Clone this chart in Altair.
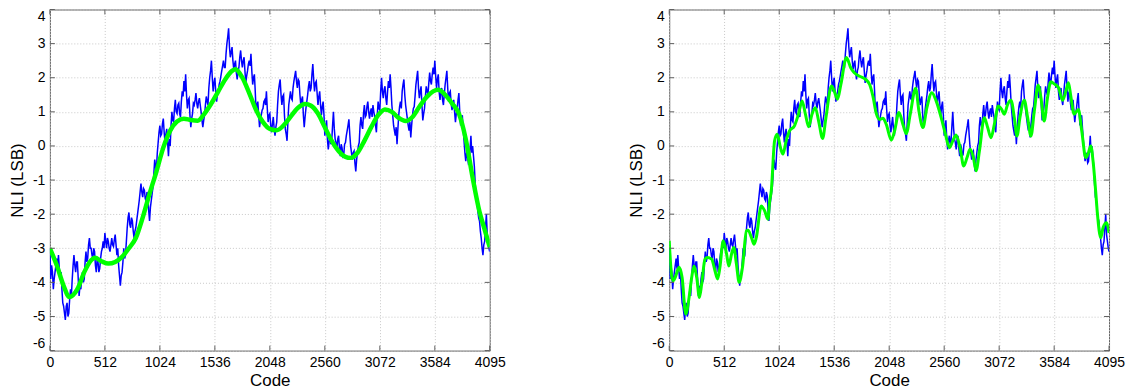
import altair as alt
import pandas as pd

# ---------------- data ----------------
# Measured NLI trace, read every 16 codes (last sample at code 4095) ...
BLUE_CODES = list(range(0, 4096, 16)) + [4095]
NLI = [
    -3.0, -3.5, -4.2, -3.7, -3.3, -3.2, -3.9, -4.2, -4.7, -5.1,
    -4.6, -4.9, -4.2, -3.9, -3.2, -3.7, -3.4, -4.4, -4.2, -3.7,
    -3.9, -3.1, -3.3, -2.7, -3.0, -3.3, -3.1, -3.7, -3.4, -3.6,
    -3.1, -2.8, -2.55, -3.0, -2.8, -3.1, -2.7, -2.95, -2.6, -3.2,
    -3.5, -4.1, -3.7, -3.0, -3.2, -2.4, -1.95, -2.4, -2.2, -2.7,
    -2.4, -2.0, -1.6, -1.1, -1.5, -1.3, -1.6, -1.45, -2.2, -1.6,
    -1.2, -0.4, -0.7, 0.1, 0.6, 0.35, 0.8, 0.1, 0.5, -0.3,
    0.0, 1.0, 0.7, 1.35, 0.95, 1.25, 0.85, 1.6, 1.9, 2.1,
    1.1, 1.4, 0.55, 0.95, 1.2, 1.55, 1.1, 1.4, 1.0, 0.55,
    0.9, 1.45, 1.2, 2.0, 2.5, 1.6, 2.0, 1.3, 1.6, 1.9,
    2.2, 2.5, 2.3, 3.0, 3.45, 2.6, 2.9, 2.25, 2.5, 1.95,
    2.3, 2.8, 2.3, 2.6, 1.85, 2.2, 2.5, 2.7, 1.8, 2.1,
    1.0, 1.3, 0.55, 0.9, 1.1, 1.35, 1.6, 0.7, 0.95, 0.4,
    0.85, 0.3, 0.7, 1.6, 1.95, 1.2, 1.5, 0.5, 0.15, 1.2,
    1.6, 1.35, 1.9, 2.2, 1.7, 1.9, 1.2, 1.45, 0.55, 1.1,
    1.5, 1.9, 1.7, 2.4, 1.6, 1.9, 1.2, 1.6, 0.9, 1.3,
    0.3, 0.75, -0.1, 0.3, 0.15, 1.0, 0.2, -0.1, 0.3, -0.3,
    -0.05, -0.25, 0.1, 0.45, 0.78, 0.0, -0.4, -0.15, -0.75, -0.2,
    0.1, 0.85, 0.5, 1.2, 0.9, 1.3, 0.8, 1.1, 1.2, 0.85,
    0.4, 1.3, 1.05, 2.0, 1.4, 1.75, 1.2, 1.9, 2.1, 1.2,
    0.6, 0.3, 0.05, 0.9, 1.3, 1.6, 1.95, 1.2, 0.8, 0.45,
    0.25, 0.9, 1.15, 1.8, 2.2, 1.4, 1.75, 0.75, 1.1, 1.75,
    1.5, 2.15, 1.8, 2.3, 2.5, 1.7, 2.1, 1.35, 1.7, 1.2,
    1.8, 2.2, 1.3, 1.6, 1.05, 1.35, 0.7, 1.1, 1.55, 0.6,
    0.9, 0.15, -0.45, -0.3, -0.45, 0.3, 0.0, -0.6, -1.5, -1.9,
    -2.2, -2.7, -3.2, -2.8, -2.0, -2.8, -3.1,
]
# ... and the in-between readings at codes 8, 24, ..., 4088
MID_CODES = list(range(8, 4096, 16))
NLI_MID = [
    -3.9, -3.7, -3.9, -3.5, -3.6, -3.6, -3.7, -4.6, -4.9, -4.7,
    -5.0, -4.5, -4.4, -3.5, -3.5, -3.4, -3.9, -4.1, -3.9, -4.0,
    -3.4, -3.4, -2.9, -3.0, -3.2, -3.0, -3.5, -3.3, -3.7, -3.3,
    -3.0, -3.0, -2.8, -2.7, -3.0, -2.9, -2.9, -2.75, -2.9, -3.0,
    -3.8, -3.8, -3.4, -3.3, -2.8, -2.1, -2.3, -2.1, -2.5, -2.5,
    -2.2, -1.8, -1.35, -1.35, -1.25, -1.55, -1.35, -1.9, -1.8, -1.4,
    -0.8, -0.6, -0.2, 0.4, 0.3, 0.65, 0.4, 0.35, 0.1, 0.2,
    0.6, 0.75, 1.1, 1.0, 1.2, 0.95, 1.3, 1.45, 1.6, 1.5,
    1.35, 0.9, 0.8, 1.25, 1.35, 1.25, 1.3, 1.2, 0.75, 0.75,
    1.2, 1.3, 1.7, 2.2, 2.0, 1.85, 1.6, 1.5, 1.8, 2.05,
    2.35, 2.3, 2.7, 3.2, 2.9, 2.75, 2.5, 2.4, 2.15, 2.2,
    2.6, 2.5, 2.5, 2.2, 2.05, 2.4, 2.35, 2.2, 2.0, 1.6,
    1.2, 0.9, 0.75, 1.05, 1.3, 1.2, 1.1, 0.9, 0.6, 0.65,
    0.5, 0.55, 1.2, 1.8, 1.5, 1.45, 0.9, 0.35, 0.7, 1.4,
    1.4, 1.7, 2.05, 1.9, 1.95, 1.5, 1.35, 0.9, 0.85, 1.3,
    1.75, 1.6, 2.1, 1.95, 1.85, 1.55, 1.45, 1.2, 1.15, 0.9,
    0.55, 0.2, 0.15, 0.05, 0.6, 0.5, 0.1, 0.2, -0.05, 0.05,
    -0.3, 0.05, 0.3, 0.6, 0.35, -0.2, -0.2, -0.5, -0.4, 0.0,
    0.6, 0.6, 0.95, 0.85, 1.15, 1.0, 1.0, 0.85, 1.0, 0.6,
    0.9, 1.1, 1.6, 1.6, 1.65, 1.4, 1.6, 1.7, 1.7, 0.9,
    0.45, 0.55, 0.5, 1.15, 1.1, 1.8, 1.5, 1.0, 0.6, 0.7,
    0.6, 1.1, 1.45, 2.0, 1.7, 1.6, 1.2, 0.95, 1.45, 1.6,
    1.85, 1.9, 2.1, 2.1, 2.05, 1.95, 1.6, 1.55, 1.35, 1.5,
    2.0, 1.7, 1.55, 1.25, 1.25, 1.0, 0.95, 1.35, 1.0, 0.8,
    0.5, -0.2, -0.2, -0.5, -0.1, -0.2, -0.3, -1.1, -1.6, -2.1,
    -2.5, -3.0, -2.9, -2.4, -2.6, -3.0,
]

# Left panel: smooth low-order fit
FIT1_CODES = [0, 64, 128, 180, 256, 320, 384, 420, 480, 544, 608, 672, 736, 800, 864,
              928, 992, 1056, 1120, 1184, 1248, 1312, 1376, 1440, 1504, 1568, 1632, 1696,
              1728, 1792, 1856, 1920, 1984, 2048, 2112, 2176, 2240, 2304, 2376, 2432, 2496,
              2560, 2624, 2688, 2752, 2800, 2864, 2928, 2992, 3056, 3120, 3184, 3248, 3312,
              3376, 3440, 3504, 3568, 3616, 3680, 3744, 3808, 3872, 3936, 4000, 4048, 4095]
FIT1 = [-3.0, -3.5, -4.1, -4.43, -4.2, -3.7, -3.35, -3.28, -3.38, -3.45, -3.4, -3.25, -3.0,
        -2.7, -2.1, -1.4, -0.75, -0.05, 0.45, 0.72, 0.8, 0.76, 0.74, 0.95, 1.25, 1.6, 1.95,
        2.2, 2.25, 2.0, 1.55, 1.05, 0.7, 0.5, 0.46, 0.6, 0.85, 1.1, 1.23, 1.18, 0.95, 0.55,
        0.15, -0.15, -0.32, -0.35, -0.2, 0.15, 0.55, 0.9, 1.07, 1.0, 0.82, 0.73, 0.85, 1.15,
        1.42, 1.6, 1.65, 1.5, 1.25, 0.95, 0.2, -0.93, -1.93, -2.45, -2.97]

# Right panel: higher-order fit
FIT2_CODES = [0, 25, 40, 55, 92, 120, 154, 185, 209, 231, 256, 281, 302, 333, 355, 395, 426,
              450, 472, 503, 534, 555, 580, 601, 626, 651, 682, 719, 734, 765, 790, 811, 857,
              888, 919, 934, 950, 981, 1005, 1036, 1058, 1089, 1120, 1166, 1203, 1237, 1268,
              1298, 1329, 1360, 1391, 1428, 1459, 1511, 1536, 1567, 1598, 1650, 1690, 1721,
              1768, 1829, 1866, 1897, 1928, 1959, 1990, 2021, 2068, 2098, 2139, 2176, 2207,
              2244, 2294, 2325, 2362, 2399, 2445, 2485, 2532, 2572, 2609, 2640, 2671, 2708,
              2742, 2773, 2801, 2832, 2857, 2888, 2934, 2965, 2996, 3027, 3064, 3095, 3120,
              3151, 3182, 3213, 3238, 3265, 3306, 3337, 3368, 3399, 3436, 3461, 3491, 3522,
              3553, 3584, 3624, 3662, 3693, 3717, 3739, 3770, 3810, 3841, 3878, 3903, 3925,
              3946, 3971, 3987, 4018, 4040, 4070, 4095]
FIT2 = [-2.78, -3.86, -3.95, -3.86, -3.56, -3.86, -4.93, -4.44, -3.86, -3.52, -3.86, -4.44,
        -4.05, -3.32, -3.27, -3.32, -3.66, -3.9, -3.56, -2.78, -3.17, -3.52, -3.17, -2.98,
        -3.47, -4.0, -3.56, -2.49, -2.47, -2.68, -2.88, -2.68, -1.76, -1.9, -2.15, -1.65,
        -1.32, 0.15, 0.34, -0.05, -0.24, 0.15, 0.44, 0.59, 0.93, 1.32, 0.93, 0.56, 0.93,
        1.12, 0.73, 0.22, 0.83, 1.76, 1.61, 1.37, 1.8, 2.59, 2.29, 2.15, 2.05, 1.95, 1.8,
        1.45, 0.95, 0.78, 0.81, 0.63, 0.17, 0.44, 0.98, 0.63, 0.36, 0.93, 1.69, 1.02, 0.54,
        1.12, 1.56, 1.32, 0.83, 0.34, -0.05, 0.15, 0.32, -0.05, -0.59, -0.34, -0.1, -0.34,
        -0.73, -0.15, 0.83, 0.54, 0.24, 0.63, 1.17, 1.07, 0.93, 1.22, 1.34, 0.83, 0.29,
        0.83, 1.34, 0.83, 0.29, 1.02, 1.79, 1.41, 0.73, 1.41, 1.88, 1.82, 1.71, 1.34, 1.61,
        1.85, 1.46, 0.93, 1.07, 0.44, -0.34, -0.2, 0.0, -0.44, -1.35, -2.0, -2.69, -2.39,
        -2.25, -2.55]

X_TICKS = [0, 512, 1024, 1536, 2048, 2560, 3072, 3584, 4095]
Y_TICKS = [-6, -5, -4, -3, -2, -1, 0, 1, 2, 3, 4]

# ---------------- styling ----------------
W, H = 441, 342
FRAME = "#5f5f5f"
FONT = "Liberation Sans"

blue_df = pd.concat([
    pd.DataFrame({"code": BLUE_CODES, "nli": NLI}),
    pd.DataFrame({"code": MID_CODES, "nli": NLI_MID}),
]).sort_values("code").reset_index(drop=True)


def panel(fit_codes, fit_vals, green_width):
    X = alt.X(
        "code:Q",
        scale=alt.Scale(domain=[0, 4095], nice=False, zero=False),
        axis=alt.Axis(values=X_TICKS, title="Code", labelExpr="'' + datum.value",
                      labelFlush=False, grid=True, ticks=False, domain=False,
                      labelPadding=5, titlePadding=3),
    )
    Y = alt.Y(
        "nli:Q",
        scale=alt.Scale(domain=[-6, 4], nice=False, zero=False),
        axis=alt.Axis(values=Y_TICKS, title="NLI (LSB)", labelExpr="'' + datum.value",
                      labelFlush=True, grid=True, ticks=False, domain=False,
                      labelPadding=5, titlePadding=6),
    )
    blue = alt.Chart(blue_df).mark_line(
        color="#0000ff", strokeWidth=1.5, clip=True, strokeJoin="miter"
    ).encode(x=X, y=Y)
    green = alt.Chart(pd.DataFrame({"code": fit_codes, "nli": fit_vals})).mark_line(
        color="#00ff00", strokeWidth=green_width, interpolate="monotone", clip=True
    ).encode(x=X, y=Y)
    xt = pd.DataFrame({"code": X_TICKS})
    yt = pd.DataFrame({"nli": Y_TICKS})
    tick_b = alt.Chart(xt).mark_rule(color=FRAME).encode(x=X, y=alt.value(H), y2=alt.value(H - 5))
    tick_t = alt.Chart(xt).mark_rule(color=FRAME).encode(x=X, y=alt.value(0), y2=alt.value(5))
    tick_l = alt.Chart(yt).mark_rule(color=FRAME).encode(y=Y, x=alt.value(0), x2=alt.value(5))
    tick_r = alt.Chart(yt).mark_rule(color=FRAME).encode(y=Y, x=alt.value(W), x2=alt.value(W - 5))
    return alt.layer(blue, green, tick_b, tick_t, tick_l, tick_r).properties(width=W, height=H)


left = panel(FIT1_CODES, FIT1, 4.5)
right = panel(FIT2_CODES, FIT2, 3)

chart = (
    alt.hconcat(left, right, spacing=121)
    .properties(padding=0, background="white")
    .configure_view(stroke=FRAME, strokeWidth=1)
    .configure_axis(
        labelFont=FONT, labelFontSize=14, labelColor="#000000",
        titleFont=FONT, titleFontSize=17, titleFontWeight="normal", titleColor="#000000",
        gridColor="#c8c8c8", gridDash=[1, 2], gridWidth=1,
    )
)

chart.save("out.html", embed_options={"renderer": "svg", "actions": False})
